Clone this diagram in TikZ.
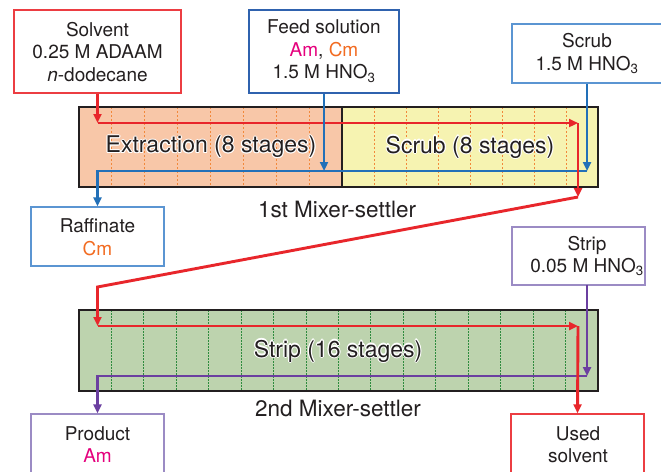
\documentclass[tikz,border=0pt]{standalone}
\usepackage{fontspec}
\setmainfont{TeX Gyre Heros}
\usetikzlibrary{arrows.meta}
\definecolor{cRed}{HTML}{E8262B}
\definecolor{cRedBox}{HTML}{EC3D42}
\definecolor{cBlue}{HTML}{2270B8}
\definecolor{cFeedBox}{HTML}{2F62AE}
\definecolor{cLtBlueBox}{HTML}{5B95D2}
\definecolor{cPurple}{HTML}{6B3FA0}
\definecolor{cPurpleBox}{HTML}{9B8BC4}
\definecolor{cAm}{HTML}{E5007D}
\definecolor{cCm}{HTML}{F26B21}
\definecolor{cExt}{HTML}{F8C7A8}
\definecolor{cScr}{HTML}{F6F3B1}
\definecolor{cStr}{HTML}{BDD3AE}
\definecolor{cDash}{HTML}{F2883A}
\definecolor{cDot}{HTML}{2E8B3E}
\definecolor{cInk}{HTML}{231F20}
\newcommand\halotext[1]{\leavevmode
 \rlap{\color{white}\hspace*{1.1pt}#1}%
 \rlap{\color{white}\hspace*{-1.1pt}#1}%
 \rlap{\color{white}\raisebox{1.1pt}{#1}}%
 \rlap{\color{white}\raisebox{-1.1pt}{#1}}%
 \rlap{\color{white}\hspace*{0.8pt}\raisebox{0.8pt}{#1}}%
 \rlap{\color{white}\hspace*{-0.8pt}\raisebox{0.8pt}{#1}}%
 \rlap{\color{white}\hspace*{0.8pt}\raisebox{-0.8pt}{#1}}%
 \rlap{\color{white}\hspace*{-0.8pt}\raisebox{-0.8pt}{#1}}%
 #1}
\tikzset{
  box/.style={draw, line width=1.4pt, fill=white, inner sep=0pt},
  txt/.style={align=center, text=cInk, inner sep=0pt, font=\fontsize{19}{22.5}\selectfont},
  bigtxt/.style={text=cInk, inner sep=0pt, font=\fontsize{23}{26}\selectfont},
  labtxt/.style={text=cInk, inner sep=0pt, font=\fontsize{22.5}{26}\selectfont},
  tip/.style={-{Triangle[length=9pt,width=8pt]}},
  flow/.style={line width=2.9pt},
  redflow/.style={flow, draw=cRed},
  blueflow/.style={flow, draw=cBlue},
  purpleflow/.style={flow, draw=cPurple},
  outline/.style={draw=cInk, line width=2.4pt},
  stagedash/.style={draw=cDash, line width=1pt, dash pattern=on 2pt off 2pt},
  stagedot/.style={draw=cDot, line width=1pt, dash pattern=on 1.5pt off 1.5pt},
}
\begin{document}
\begin{tikzpicture}[x=1pt,y=-1pt]
\clip (0,0) rectangle (661,471);
\fill[white] (0,0) rectangle (661,471);

% 1st mixer-settler
\fill[cExt] (79,107) rectangle (342,187);
\fill[cScr] (342,107) rectangle (598,187);
\foreach \k in {1,...,7} {
  \draw[stagedash] ({79+\k*263/8},107) -- ({79+\k*263/8},187);
  \draw[stagedash] ({342+\k*32},107) -- ({342+\k*32},187);
}
\draw[outline] (79,107) rectangle (598,187);
\draw[outline] (342,107) -- (342,187);

% 2nd mixer-settler
\fill[cStr] (79,310) rectangle (598,391);
\foreach \k in {1,...,15} {
  \draw[stagedot] ({79+\k*519/16},310) -- ({79+\k*519/16},391);
}
\draw[outline] (79,310) rectangle (598,391);

% stage texts
\node[bigtxt] (extxt) at (211,147) {\halotext{Extraction (8 stages)}};
\node[bigtxt] (sctxt) at (470,147) {\halotext{Scrub (8 stages)}};
\node[bigtxt] (sttxt) at (338,351) {\halotext{Strip (16 stages)}};
\node[labtxt] (ms1lab) at (337,209) {1st Mixer-settler};
\node[labtxt] (ms2lab) at (338,408) {2nd Mixer-settler};

% boxes
\node[box, draw=cRedBox, minimum width=167pt, minimum height=83pt] (solvent) at (97.5,51.5) {};
\node[box, draw=cFeedBox, minimum width=150pt, minimum height=83pt] (feed) at (324,51.5) {};
\node[box, draw=cLtBlueBox, minimum width=150pt, minimum height=59pt] (scrub) at (587,53.5) {};
\node[box, draw=cLtBlueBox, minimum width=133pt, minimum height=59pt] (raff) at (97.5,236.5) {};
\node[box, draw=cPurpleBox, minimum width=133pt, minimum height=58pt] (strip) at (578.5,256) {};
\node[box, draw=cPurpleBox, minimum width=133pt, minimum height=80pt] (product) at (97.5,454) {};
\node[box, draw=cRedBox, minimum width=133pt, minimum height=80pt] (used) at (577.5,454) {};

\node[txt] (solventtxt) at (97.5,52) {Solvent\\0.25 M ADAAM\\\textit{n}-dodecane};
\node[txt] (feedtxt) at (324,51) {Feed solution\\{\color{cAm}Am}, {\color{cCm}Cm}\\1.5 M HNO\textsubscript{3}};
\node[txt] (scrubtxt) at (587,53.5) {Scrub\\1.5 M HNO\textsubscript{3}};
\node[txt] (rafftxt) at (97.5,237) {Raffinate\\{\color{cCm}Cm}};
\node[txt] (striptxt) at (587,256) {Strip\\0.05 M HNO\textsubscript{3}};
\node[txt] (producttxt) at (97.5,444.5) {Product\\{\color{cAm}Am}};
\node[txt] (usedtxt) at (578,444.5) {Used\\solvent};

% turning points
\coordinate (rA) at (97.5,123);
\coordinate (rB) at (578,123);
\coordinate (rC) at (578,197);
\coordinate (rD) at (97.5,287);
\coordinate (rE) at (97.5,326);
\coordinate (rF) at (578,326);
\coordinate (bF) at (feed.south |- 0,171);
\coordinate (bS) at (587,171);
\coordinate (bR) at (97.5,171);
\coordinate (pS) at (587,285);
\coordinate (pE) at (587,376);
\coordinate (pP) at (97.5,376);

% red (1st)
\draw[redflow, tip] (solvent.south) -- (rA);
\draw[redflow, tip] (rA) -- (rB);
% blue
\draw[blueflow, tip] (feed.south) -- (bF);
\draw[blueflow, tip] (scrub.south) -- (bS);
\draw[blueflow, tip] (bS) -- (bR) -- (raff.north);
% red down and across
\draw[redflow, tip] (rB) -- (rC);
\draw[redflow, tip] (rC) -- (rD) -- (rE);
% purple
\draw[purpleflow, tip] (pS) -- (pE);
\draw[purpleflow, tip] (pE) -- (pP) -- (product.north);
% red (2nd)
\draw[redflow, tip] (rE) -- (rF);
\draw[redflow, tip] (rF) -- (used.north);
\end{tikzpicture}
\end{document}
